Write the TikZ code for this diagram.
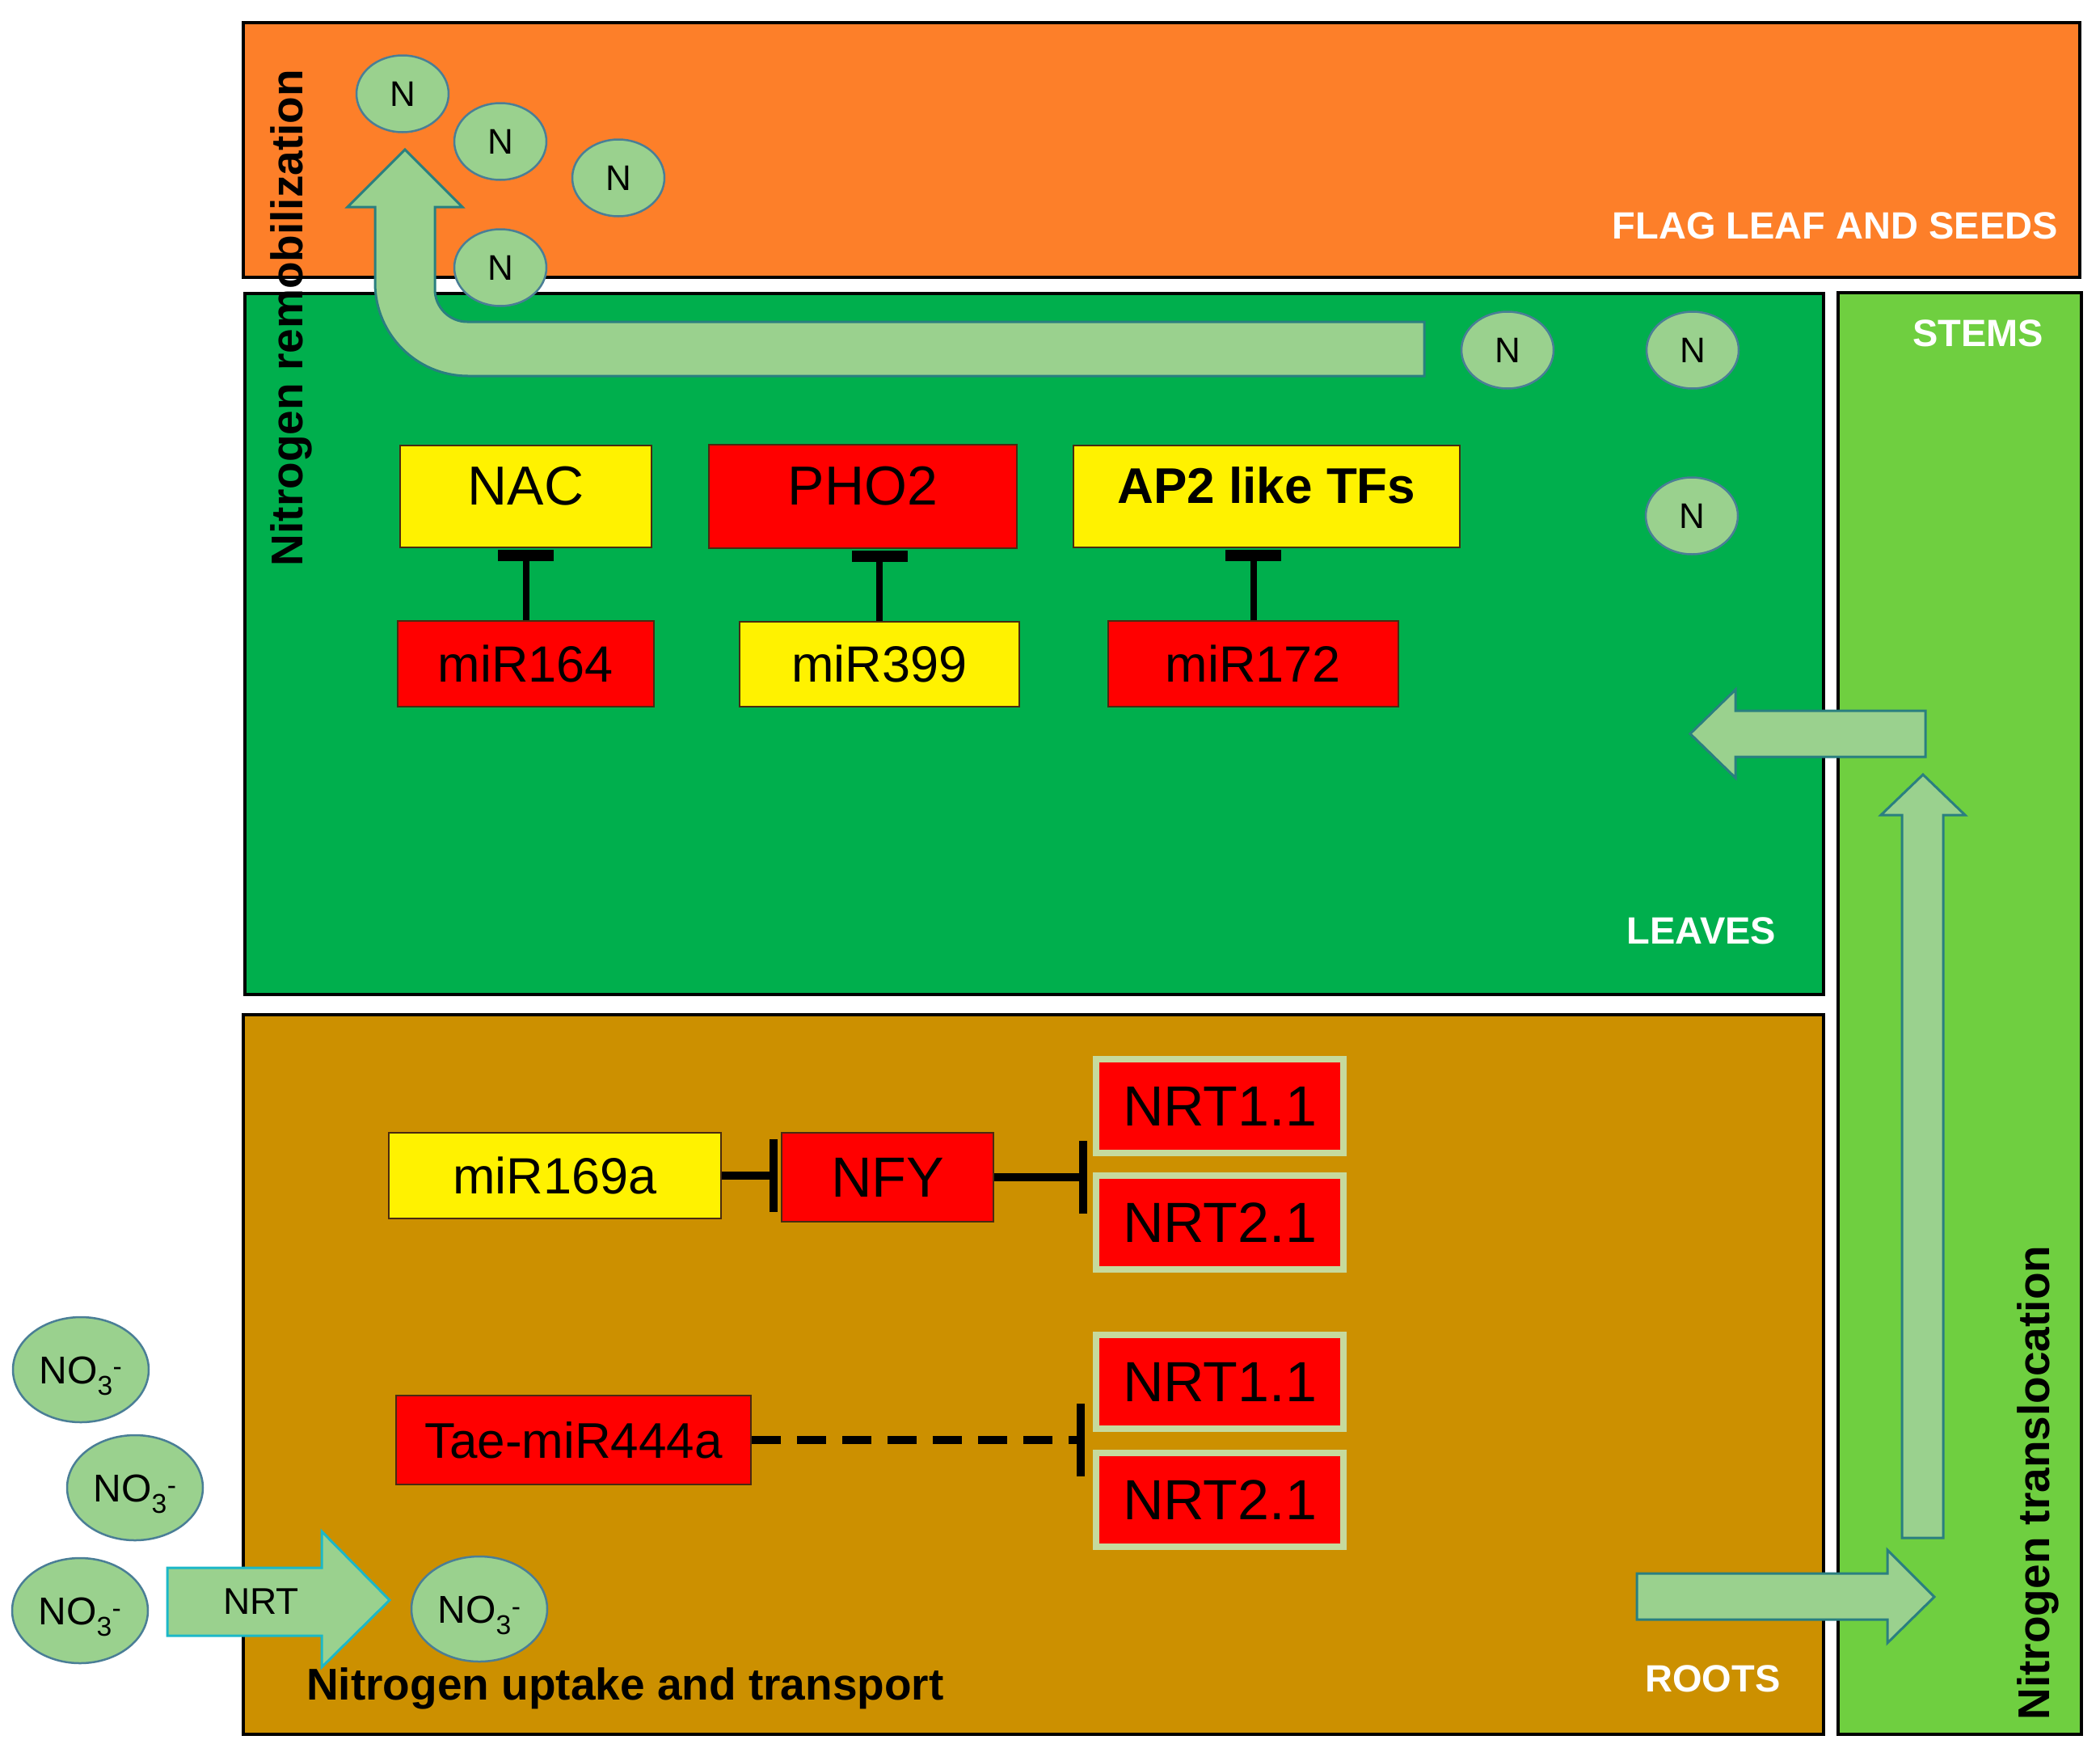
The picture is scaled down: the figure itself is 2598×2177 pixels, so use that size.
\documentclass[tikz,border=0pt]{standalone}
\usepackage{fontspec}
\setmainfont{Liberation Sans}
\usetikzlibrary{shapes.geometric,arrows.meta}
\definecolor{orangeC}{HTML}{FD7F29}
\definecolor{leafC}{HTML}{00AF4D}
\definecolor{stemC}{HTML}{6FCF40}
\definecolor{rootC}{HTML}{CC9000}
\definecolor{arrowFill}{HTML}{9AD18E}
\definecolor{arrowEdge}{HTML}{2A7F80}
\definecolor{ellEdge}{HTML}{4A7E96}
\definecolor{nrtArrowEdge}{HTML}{1CB8C8}
\definecolor{nrtBoxEdge}{HTML}{C6DA9E}
\definecolor{boxEdge}{HTML}{4A2A10}
\newcommand\fsz[1]{\fontsize{#1}{#1}\selectfont}
\begin{document}
\begin{tikzpicture}[x=1pt,y=-1pt,
  zone/.style={draw=black,line width=4pt},
  blockarrow/.style={fill=arrowFill,draw=arrowEdge,line width=3pt,line join=miter},
  nball/.style={ellipse,fill=arrowFill,draw=ellEdge,line width=2.5pt,minimum width=114pt,minimum height=95pt,inner sep=0pt,font=\fsz{44}},
  noball/.style={ellipse,fill=arrowFill,draw=ellEdge,line width=2.5pt,minimum width=168pt,minimum height=130pt,inner sep=0pt,font=\fsz{48},text height=34pt,text depth=0pt},
  genebox/.style={rectangle,draw=boxEdge,line width=2pt,inner sep=0pt},
  redbox/.style={genebox,fill=red},
  yelbox/.style={genebox,fill=yellow},
  nrtbox/.style={rectangle,fill=red,draw=nrtBoxEdge,line width=8pt,minimum width=306pt,minimum height=116pt,inner sep=0pt,font=\fsz{70}},
  zonelabel/.style={text=white,font={\fsz{47}\bfseries},inner sep=0pt},
  biglabel/.style={font={\fsz{55}\bfseries},inner sep=0pt},
  inhib/.style={line width=8pt,-{Rectangle[length=14pt,width=69pt]}},
  inhibbar/.style={line width=10pt,-{Rectangle[length=10pt,width=90pt]}}
]
\useasboundingbox (0,0) rectangle (2598,2177);
\fill[white] (0,0) rectangle (2598,2177);

% zones
\draw[zone,fill=orangeC] (301,28) rectangle (2573,343);
\draw[zone,fill=leafC] (303,363) rectangle (2256,1230);
\draw[zone,fill=stemC] (2274,362) rectangle (2575,2145);
\draw[zone,fill=rootC] (301,1255) rectangle (2256,2145);

% curved remobilization arrow
\draw[blockarrow] (1762,398) -- (578,398) .. controls (556,398) and (538,380) .. (538,358)
  -- (538,256) -- (572,256) -- (501,185) -- (430,256) -- (464,256) -- (464,350)
  .. controls (464,413.5) and (515.5,465) .. (579,465) -- (1762,465) -- cycle;

% stem arrows
\draw[blockarrow] (2382,879) -- (2147,879) -- (2147,853) -- (2091,907.5) -- (2147,962) -- (2147,936) -- (2382,936) -- cycle;
\draw[blockarrow] (2353,1902) -- (2353,1008) -- (2327,1008) -- (2379,958) -- (2431,1008) -- (2404,1008) -- (2404,1902) -- cycle;
\draw[blockarrow] (2025,1946) -- (2335,1946) -- (2335,1917) -- (2393,1975) -- (2335,2032) -- (2335,2003) -- (2025,2003) -- cycle;

% NRT uptake arrow
\draw[fill=arrowFill,draw=nrtArrowEdge,line width=3pt,line join=miter] (207,1939) -- (398,1939) -- (398,1894) -- (482,1979) -- (398,2062) -- (398,2023) -- (207,2023) -- cycle;
\node[font=\fsz{46},inner sep=0pt] (nrtlab) at (323,1981) {NRT};

% N balls
\node[nball] (n1) at (498,116) {N};
\node[nball] (n2) at (619,175) {N};
\node[nball] (n3) at (765,220) {N};
\node[nball] (n4) at (619,331) {N};
\node[nball] (n5) at (1865,433) {N};
\node[nball] (n6) at (2094,433) {N};
\node[nball] (n7) at (2093,638) {N};

% NO3 balls
\node[noball] (no1) at (100,1694) {NO\textsubscript{3}\textsuperscript{-}};
\node[noball] (no2) at (167,1840) {NO\textsubscript{3}\textsuperscript{-}};
\node[noball] (no3) at (99,1992) {NO\textsubscript{3}\textsuperscript{-}};
\node[noball] (no4) at (593,1990) {NO\textsubscript{3}\textsuperscript{-}};

% zone labels
\node[zonelabel,anchor=base east] (flag) at (2546,295) {FLAG LEAF AND SEEDS};
\node[zonelabel,anchor=base] (stems) at (2447,428) {STEMS};
\node[zonelabel,anchor=base] (leaves) at (2105,1167) {LEAVES};
\node[zonelabel,anchor=base] (roots) at (2119,2092) {ROOTS};
\node[biglabel,rotate=90] (remob) at (360,393) {Nitrogen remobilization};
\node[biglabel,rotate=90] (transl) at (2521,1834) {Nitrogen translocation};
\node[biglabel,anchor=base west] (uptake) at (379,2102) {Nitrogen uptake and transport};

% leaves genes
\node[yelbox,minimum width=311pt,minimum height=126pt,font=\fsz{68},text height=48.7pt,text depth=28pt] (nac) at (650.5,614) {NAC};
\node[redbox,minimum width=381pt,minimum height=128pt,font=\fsz{68},text height=48.7pt,text depth=28pt] (pho2) at (1067.5,614) {PHO2};
\node[yelbox,minimum width=478pt,minimum height=126pt,font={\fsz{62}\bfseries},text height=44.4pt,text depth=28pt] (ap2) at (1567,614) {AP2 like TFs};
\node[redbox,minimum width=317pt,minimum height=106pt,font=\fsz{63}] (mir164) at (650.5,821) {miR164};
\node[yelbox,minimum width=346pt,minimum height=105pt,font=\fsz{63}] (mir399) at (1088,821) {miR399};
\node[redbox,minimum width=359pt,minimum height=106pt,font=\fsz{63}] (mir172) at (1550.5,821) {miR172};
\draw[inhib,shorten >=2pt] (mir164.north) -- (mir164.north |- nac.south);
\draw[inhib,shorten >=2pt] (mir399.north) -- (mir399.north |- pho2.south);
\draw[inhib,shorten >=2pt] (mir172.north) -- (mir172.north |- ap2.south);

% roots genes
\node[yelbox,minimum width=411pt,minimum height=106pt,font=\fsz{63}] (mir169) at (686.5,1454) {miR169a};
\node[redbox,minimum width=262pt,minimum height=110pt,font=\fsz{70}] (nfy) at (1098,1456) {NFY};
\node[nrtbox] (nrtA) at (1509,1368) {NRT1.1};
\node[nrtbox] (nrtB) at (1509,1512) {NRT2.1};
\node[nrtbox] (nrtC) at (1509,1709) {NRT1.1};
\node[nrtbox] (nrtD) at (1509,1855) {NRT2.1};
\node[redbox,minimum width=439pt,minimum height=110pt,font=\fsz{62}] (tae) at (709.5,1781) {Tae-miR444a};
\draw[inhibbar] (mir169.east) -- ([xshift=-4pt]mir169.east -| nfy.west);
\draw[inhibbar] (nfy.east) -- ([xshift=-7pt]nfy.east -| nrtA.west);
\draw[inhibbar,dash pattern=on 36pt off 20pt] (tae.east) -- ([xshift=-10pt]tae.east -| nrtC.west);
\end{tikzpicture}
\end{document}
